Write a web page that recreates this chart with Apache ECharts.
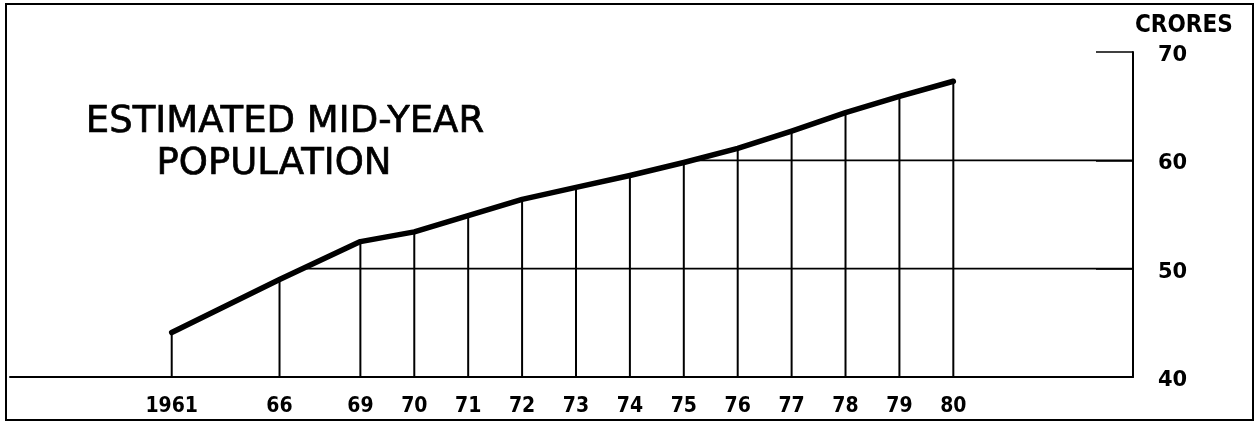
<!DOCTYPE html>
<html><head><meta charset="utf-8">
<script src="https://cdn.jsdelivr.net/npm/echarts@6.0.0/dist/echarts.min.js"></script>
<style>
html,body{margin:0;padding:0;background:#fff;}
#chart{width:1260px;height:423px;position:absolute;left:0;top:0;}
#frame{position:absolute;left:5px;top:3px;width:1249px;height:418px;border:2px solid #000;box-sizing:border-box;pointer-events:none;}
</style></head>
<body>
<div id="chart"></div><div id="frame"></div>
<script>
// ---- data ----
const years = [1961, 1966, 1969, 1970, 1971, 1972, 1973, 1974, 1975, 1976, 1977, 1978, 1979, 1980];
const yearLabels = ['1961', '66', '69', '70', '71', '72', '73', '74', '75', '76', '77', '78', '79', '80'];
const population = [44.1, 49.0, 52.5, 53.4, 54.9, 56.4, 57.5, 58.6, 59.8, 61.1, 62.7, 64.4, 65.9, 67.3];
const yMin = 40, yMax = 70, yStep = 10;
const gridLevels = [50, 60];
const unitLabel = 'CRORES';
const titleLines = ['ESTIMATED MID-YEAR', 'POPULATION'];

// ---- broken (non-uniform) year axis, built as a category axis of equal slots ----
const LEAD = 18, TRAIL = 20;
function slotOf(y) {
  let s;
  if (y <= 1966) s = (y - 1961) * 12 / 5;
  else if (y <= 1969) s = 12 + (y - 1966) * 3;
  else s = 21 + (y - 1969) * 6;
  return LEAD + Math.round(s);
}
const lastSlot = slotOf(years[years.length - 1]) + TRAIL;
const categories = [];
for (let i = 0; i <= lastSlot; i++) categories.push('s' + i);
const labelAt = {};
years.forEach((y, i) => { labelAt[slotOf(y)] = yearLabels[i]; });
const points = years.map((y, i) => [slotOf(y), population[i]]);

// gridlines start where the curve reaches the level
function crossingSlot(level) {
  for (let i = 0; i < population.length - 1; i++) {
    if (population[i] < level && population[i + 1] >= level) {
      const f = (level - population[i]) / (population[i + 1] - population[i]);
      const a = slotOf(years[i]), b = slotOf(years[i + 1]);
      return Math.round(a + f * (b - a));
    }
  }
  return 0;
}
const gridSeries = gridLevels.map(L => ({
  type: 'line', silent: true, symbol: 'none', z: 1,
  lineStyle: { color: '#000', width: 1.6 },
  data: [[crossingSlot(L), L], [lastSlot, L]]
}));

const FONT = '"DejaVu Sans", "Liberation Sans", sans-serif';
const COND = '"DejaVu Sans Condensed", ' + FONT;
const chart = echarts.init(document.getElementById('chart'), null, { renderer: 'canvas' });
chart.setOption({
  animation: false,
  backgroundColor: '#fff',
  grid: { left: 10, right: 127, top: 52, bottom: 46, containLabel: false, outerBoundsMode: 'none' },
  xAxis: {
    type: 'category', data: categories, boundaryGap: false,
    axisLine: { show: true, lineStyle: { color: '#000', width: 2 } },
    axisTick: { show: false },
    splitLine: { show: false },
    axisLabel: {
      interval: 0, margin: 19, color: '#000', fontSize: 21, fontWeight: 'bold',
      fontFamily: COND,
      formatter: (v, i) => labelAt[i] || ''
    }
  },
  yAxis: {
    type: 'value', position: 'right', min: yMin, max: yMax, interval: yStep,
    name: unitLabel, nameLocation: 'end', nameGap: 26,
    nameTextStyle: { color: '#000', fontSize: 24, fontWeight: 'bold', fontFamily: COND, align: 'left', verticalAlign: 'middle', padding: [0, 0, 0, 2] },
    axisLine: { show: true, lineStyle: { color: '#000', width: 2 } },
    axisTick: { show: true, inside: true, length: 37, lineStyle: { color: '#000', width: 1.6 } },
    splitLine: { show: false },
    axisLabel: {
      margin: 25, color: '#000',
      formatter: v => '{n|' + v + '}',
      rich: { n: { fontSize: 21, fontWeight: 'bold', fontFamily: FONT, color: '#000', padding: [7, 0, 0, 0] } }
    }
  },
  graphic: [
    { type: 'text', x: 285, y: 122, style: { text: titleLines[0], font: '37px ' + FONT, fill: '#000', stroke: '#000', lineWidth: 0.7, align: 'center', verticalAlign: 'middle' } },
    { type: 'text', x: 274, y: 164, style: { text: titleLines[1], font: '37px ' + FONT, fill: '#000', stroke: '#000', lineWidth: 0.7, align: 'center', verticalAlign: 'middle' } }
  ],
  series: gridSeries.concat([
    {
      type: 'bar', silent: true, z: 2, barWidth: 2,
      itemStyle: { color: '#000' },
      data: points
    },
    {
      type: 'line', silent: true, z: 3, symbol: 'none',
      lineStyle: { color: '#000', width: 5.5, join: 'round', cap: 'round' },
      data: points
    }
  ])
});
</script>
</body></html>
